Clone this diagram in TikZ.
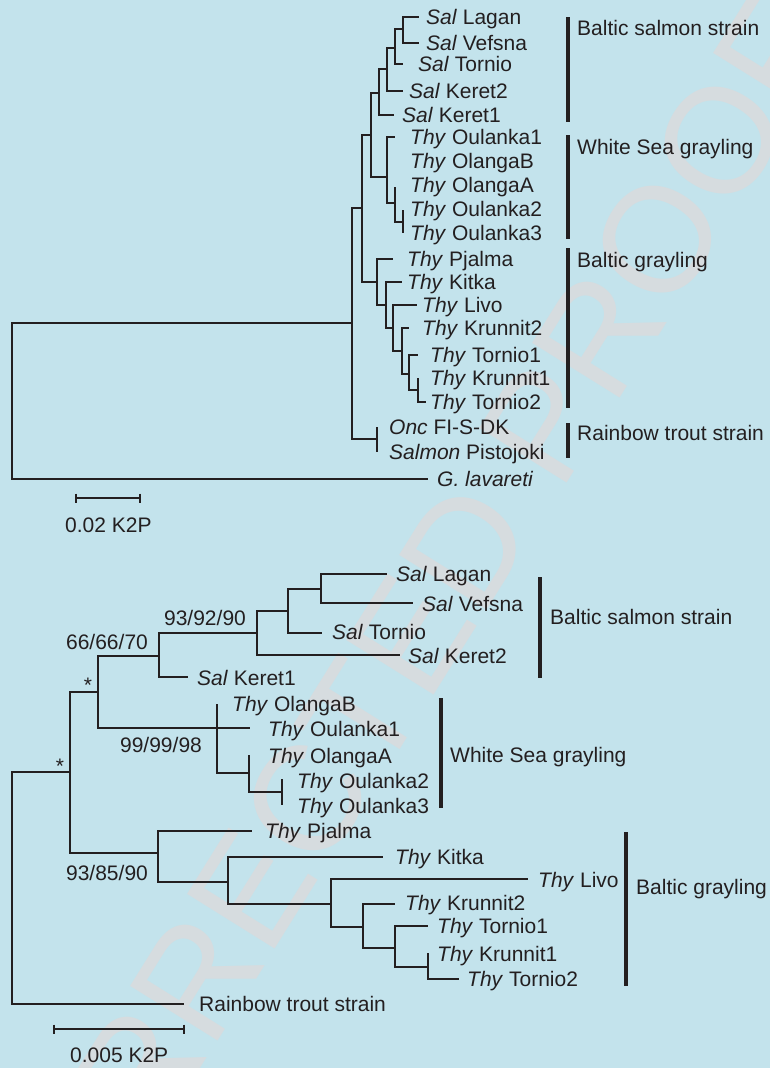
\documentclass[tikz,border=0pt]{standalone}
\usepackage{fontspec}
\setmainfont{Liberation Sans}
\definecolor{bg}{RGB}{195,227,236}
\definecolor{ink}{RGB}{35,31,32}
\definecolor{wm}{RGB}{214,220,223}
\begin{document}
\begin{tikzpicture}[x=1pt,y=-1pt,font=\fontsize{21}{25}\selectfont,
  br/.style={draw=ink,line width=1.3pt},
  grpbar/.style={draw=ink,line width=3.2pt},
  lab/.style={anchor=base west,inner sep=0pt,text=ink},
  boot/.style={anchor=base,inner sep=0pt,text=ink}]
\useasboundingbox (0,0) rectangle (770,1068);
\fill[bg] (0,0) rectangle (770,1068);
\clip (0,0) rectangle (770,1068);
% watermark
\node[rotate=58,text=wm,inner sep=0pt,font=\fontsize{150}{150}\selectfont] (wmk) at (395,660) {CORRECTED PROOF};

% ---------------- TOP TREE ----------------
\coordinate (tR) at (12,401);
\coordinate (t1) at (352,323);
\coordinate (t2) at (362,208);
\coordinate (t3) at (371,135);
\coordinate (tk) at (379,93);
\coordinate (ts4) at (387,69);
\coordinate (ts3) at (395,48);
\coordinate (ts2) at (403,29);
\coordinate (tw1) at (387,177);
\coordinate (tw2) at (395,203);
\coordinate (tw3) at (403,222);
\coordinate (tb1) at (377,282);
\coordinate (tb2) at (386,305);
\coordinate (tb3) at (393,328);
\coordinate (tb4) at (402,351);
\coordinate (tb5) at (409,374);
\coordinate (tb6) at (418,390);
\coordinate (to) at (377,439);
\coordinate (tLagan) at (419,17);
\coordinate (tVefsna) at (419,43);
\coordinate (tTornio) at (403,64);
\coordinate (tKeret2) at (403,91);
\coordinate (tKeret1) at (394,115);
\coordinate (tOul1) at (395,137);
\coordinate (tOlB) at (387,160);
\coordinate (tOlA) at (395,187);
\coordinate (tOul2) at (403,210);
\coordinate (tOul3) at (403,233);
\coordinate (tPja) at (393,259);
\coordinate (tKit) at (402,282);
\coordinate (tLivo) at (417,305);
\coordinate (tKr2) at (409,328);
\coordinate (tTor1) at (418,355);
\coordinate (tKr1) at (418,378);
\coordinate (tTor2) at (426,402);
\coordinate (tOnc) at (377,427);
\coordinate (tSalm) at (377,452);
\coordinate (tLav) at (428,479);
\foreach \p/\c in {tR/t1,tR/tLav,t1/t2,t1/to,t2/t3,t2/tb1,t3/tk,t3/tw1,
  tk/ts4,tk/tKeret1,ts4/ts3,ts4/tKeret2,ts3/ts2,ts3/tTornio,ts2/tLagan,ts2/tVefsna,
  tw1/tOul1,tw1/tOlB,tw1/tw2,tw2/tOlA,tw2/tw3,tw3/tOul2,tw3/tOul3,
  tb1/tPja,tb1/tb2,tb2/tKit,tb2/tb3,tb3/tLivo,tb3/tb4,tb4/tKr2,tb4/tb5,
  tb5/tTor1,tb5/tb6,tb6/tKr1,tb6/tTor2,to/tOnc,to/tSalm}
  \draw[br] (\p) |- (\c);

\node[lab] (LtLagan) at (426,17+7.5) {\textit{Sal} Lagan};
\node[lab] (LtVefsna) at (426,43+7.5) {\textit{Sal} Vefsna};
\node[lab] (LtTornio) at (418,64+7.5) {\textit{Sal} Tornio};
\node[lab] (LtKeret2) at (409,91+7.5) {\textit{Sal} Keret2};
\node[lab] (LtKeret1) at (402,115+7.5) {\textit{Sal} Keret1};
\node[lab] (LtOul1) at (410,137+7.5) {\textit{Thy} Oulanka1};
\node[lab] (LtOlB) at (410,161+7.5) {\textit{Thy} OlangaB};
\node[lab] (LtOlA) at (410,185+7.5) {\textit{Thy} OlangaA};
\node[lab] (LtOul2) at (410,209+7.5) {\textit{Thy} Oulanka2};
\node[lab] (LtOul3) at (410,233+7.5) {\textit{Thy} Oulanka3};
\node[lab] (LtPja) at (407,259+7.5) {\textit{Thy} Pjalma};
\node[lab] (LtKit) at (407,282+7.5) {\textit{Thy} Kitka};
\node[lab] (LtLivo) at (422,305+7.5) {\textit{Thy} Livo};
\node[lab] (LtKr2) at (422,328+7.5) {\textit{Thy} Krunnit2};
\node[lab] (LtTor1) at (430,355+7.5) {\textit{Thy} Tornio1};
\node[lab] (LtKr1) at (430,378+7.5) {\textit{Thy} Krunnit1};
\node[lab] (LtTor2) at (430,402+7.5) {\textit{Thy} Tornio2};
\node[lab] (LtOnc) at (389,427+7.5) {\textit{Onc} FI-S-DK};
\node[lab] (LtSalm) at (389,452+7.5) {\textit{Salmon} Pistojoki};
\node[lab] (LtLav) at (437,479+7.5) {\textit{G. lavareti}};

% group bars top
\coordinate (gA1) at (568,17);  \coordinate (gA2) at (568,122);
\coordinate (gB1) at (568,135); \coordinate (gB2) at (568,239);
\coordinate (gC1) at (568,248); \coordinate (gC2) at (568,408);
\coordinate (gD1) at (568,423); \coordinate (gD2) at (568,458);
\draw[grpbar] (gA1) -- (gA2);
\draw[grpbar] (gB1) -- (gB2);
\draw[grpbar] (gC1) -- (gC2);
\draw[grpbar] (gD1) -- (gD2);
\node[lab] (GtA) at (577,35) {Baltic salmon strain};
\node[lab] (GtB) at (577,154) {White Sea grayling};
\node[lab] (GtC) at (577,267) {Baltic grayling};
\node[lab] (GtD) at (577,440) {Rainbow trout strain};

% scale bar top
\coordinate (sa1) at (76,498); \coordinate (sa2) at (140,498);
\draw[br] (sa1) -- (sa2);
\draw[br] (sa1) ++(0,-4.5) -- ++(0,9);
\draw[br] (sa2) ++(0,-4.5) -- ++(0,9);
\node[lab] (scaleA) at (65,532) {0.02 K2P};

% ---------------- BOTTOM TREE ----------------
\coordinate (bR) at (12,888);
\coordinate (bA) at (70,772);
\coordinate (bB) at (98,692);
\coordinate (bS) at (159,656);
\coordinate (bS2) at (257,633);
\coordinate (bS3) at (288,611);
\coordinate (bS4) at (321,589);
\coordinate (bW) at (217,728);
\coordinate (bW2) at (249,773);
\coordinate (bW3) at (282,792);
\coordinate (bG1) at (158,853);
\coordinate (bG2) at (228,882);
\coordinate (bG3) at (331,904);
\coordinate (bG4) at (363,927);
\coordinate (bG5) at (395,948);
\coordinate (bG6) at (428,967);
\coordinate (bLagan) at (387,574);
\coordinate (bVefsna) at (413,603);
\coordinate (bTornio) at (322,633);
\coordinate (bKeret2) at (400,655);
\coordinate (bKeret1) at (188,677);
\coordinate (bOlB) at (217,704);
\coordinate (bOul1) at (250,728);
\coordinate (bOlA) at (249,755);
\coordinate (bOul2) at (282,779);
\coordinate (bOul3) at (282,805);
\coordinate (bPja) at (252,831);
\coordinate (bKit) at (383,857);
\coordinate (bLivo) at (528,879);
\coordinate (bKr2) at (395,904);
\coordinate (bTor1) at (428,926);
\coordinate (bKr1) at (428,953);
\coordinate (bTor2) at (459,979);
\coordinate (bRain) at (184,1004);
\foreach \p/\c in {bR/bA,bR/bRain,bA/bB,bA/bG1,bB/bS,bB/bW,bS/bS2,bS/bKeret1,
  bS2/bS3,bS2/bKeret2,bS3/bS4,bS3/bTornio,bS4/bLagan,bS4/bVefsna,
  bW/bOlB,bW/bOul1,bW/bW2,bW2/bOlA,bW2/bW3,bW3/bOul2,bW3/bOul3,
  bG1/bPja,bG1/bG2,bG2/bKit,bG2/bG3,bG3/bLivo,bG3/bG4,bG4/bKr2,bG4/bG5,
  bG5/bTor1,bG5/bG6,bG6/bKr1,bG6/bTor2}
  \draw[br] (\p) |- (\c);

\node[lab] (LbLagan) at (396,574+7.5) {\textit{Sal} Lagan};
\node[lab] (LbVefsna) at (422,604+7.5) {\textit{Sal} Vefsna};
\node[lab] (LbTornio) at (332,632+7.5) {\textit{Sal} Tornio};
\node[lab] (LbKeret2) at (408,656+7.5) {\textit{Sal} Keret2};
\node[lab] (LbKeret1) at (197,678+7.5) {\textit{Sal} Keret1};
\node[lab] (LbOlB) at (232,704+7.5) {\textit{Thy} OlangaB};
\node[lab] (LbOul1) at (268,729+7.5) {\textit{Thy} Oulanka1};
\node[lab] (LbOlA) at (268,756+7.5) {\textit{Thy} OlangaA};
\node[lab] (LbOul2) at (297,781+7.5) {\textit{Thy} Oulanka2};
\node[lab] (LbOul3) at (297,806+7.5) {\textit{Thy} Oulanka3};
\node[lab] (LbPja) at (265,831+7.5) {\textit{Thy} Pjalma};
\node[lab] (LbKit) at (395,857+7.5) {\textit{Thy} Kitka};
\node[lab] (LbLivo) at (538,880+7.5) {\textit{Thy} Livo};
\node[lab] (LbKr2) at (405,903+7.5) {\textit{Thy} Krunnit2};
\node[lab] (LbTor1) at (437,926+7.5) {\textit{Thy} Tornio1};
\node[lab] (LbKr1) at (437,954+7.5) {\textit{Thy} Krunnit1};
\node[lab] (LbTor2) at (467,979+7.5) {\textit{Thy} Tornio2};
\node[lab] (LbRain) at (199,1004+7.5) {Rainbow trout strain};

% support values
\node[boot] (v1) at (107,642+7.5) {66/66/70};
\node[boot] (v2) at (205,618+7.5) {93/92/90};
\node[boot] (v3) at (161,745+7.5) {99/99/98};
\node[boot] (v4) at (107,873+7.5) {93/85/90};
\node[boot] (ast1) at (88,692) {*};
\node[boot] (ast2) at (60,773) {*};

% group bars bottom
\coordinate (hA1) at (540,577); \coordinate (hA2) at (540,678);
\coordinate (hB1) at (441,698); \coordinate (hB2) at (441,808);
\coordinate (hC1) at (626,832); \coordinate (hC2) at (626,986);
\draw[grpbar] (hA1) -- (hA2);
\draw[grpbar] (hB1) -- (hB2);
\draw[grpbar] (hC1) -- (hC2);
\node[lab] (HtA) at (550,624.5) {Baltic salmon strain};
\node[lab] (HtB) at (450,762) {White Sea grayling};
\node[lab] (HtC) at (636,894.5) {Baltic grayling};

% scale bar bottom
\coordinate (sb1) at (54,1029); \coordinate (sb2) at (184,1029);
\draw[br] (sb1) -- (sb2);
\draw[br] (sb1) ++(0,-4.5) -- ++(0,9);
\draw[br] (sb2) ++(0,-4.5) -- ++(0,9);
\node[lab] (scaleB) at (70,1062) {0.005 K2P};
\end{tikzpicture}
\end{document}
